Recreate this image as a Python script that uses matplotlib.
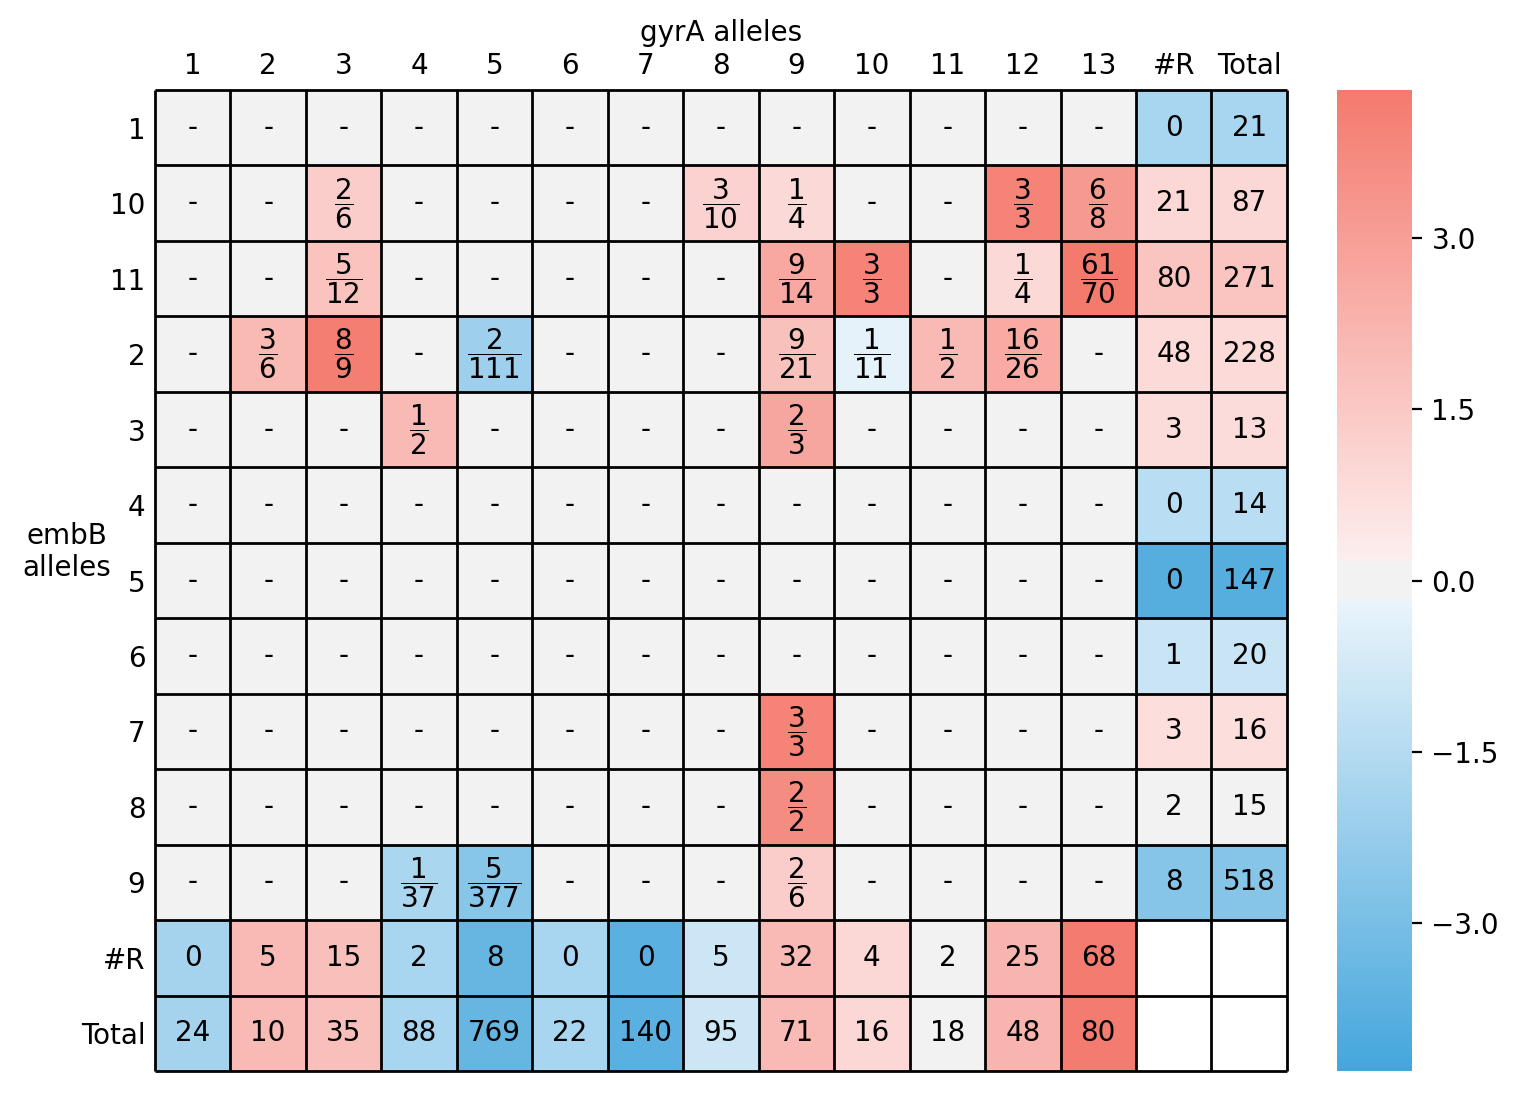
import numpy as np
import matplotlib
matplotlib.use("Agg")
import matplotlib.pyplot as plt
from matplotlib.colors import ListedColormap, to_rgb

emb_alleles = ["1", "10", "11", "2", "3", "4", "5", "6", "7", "8", "9"]
gyr_alleles = [str(i) for i in range(1, 14)]

# allele pairs that have isolates shown (embB, gyrA): resistant / total, log odds ratio
cell_emb = ["10", "10", "10", "10", "10",
            "11", "11", "11", "11", "11",
            "2", "2", "2", "2", "2", "2", "2",
            "3", "3", "7", "8", "9", "9", "9"]
cell_gyr = [3, 8, 9, 12, 13,
            3, 9, 10, 12, 13,
            2, 3, 5, 9, 10, 11, 12,
            4, 9, 9, 9, 4, 5, 9]
cell_r = [2, 3, 1, 3, 6,
          5, 9, 3, 1, 61,
          3, 8, 2, 9, 1, 1, 16,
          1, 2, 3, 2, 1, 5, 2]
cell_n = [6, 10, 4, 3, 8,
          12, 14, 3, 4, 70,
          6, 9, 111, 21, 11, 2, 26,
          2, 3, 3, 2, 37, 377, 6]
cell_lor = [1.33, 1.18, 0.92, 3.98, 3.15,
            1.71, 2.66, 3.98, 0.92, 4.38,
            2.03, 4.15, -2.06, 1.78, -0.29, 2.02, 2.58,
            2.02, 2.72, 3.98, 3.64, -1.75, -2.61, 1.33]

# per embB allele
row_r = [0, 21, 80, 48, 3, 0, 0, 1, 3, 2, 8]
row_total = [21, 87, 271, 228, 13, 14, 147, 20, 16, 15, 518]
row_lor = [-1.80, 0.96, 1.64, 0.88, 0.83, -1.40, -3.85, -1.0, 0.75, 0.10, -2.65]

# per gyrA allele
col_r = [0, 5, 15, 2, 8, 0, 0, 5, 32, 4, 2, 25, 68]
col_total = [24, 10, 35, 88, 769, 22, 140, 95, 71, 16, 18, 48, 80]
col_lor = [-1.89, 2.05, 1.81, -1.80, -3.43, -1.81, -3.74, -0.92, 2.00, 0.94, -0.06, 2.25, 4.27]

row_labels = emb_alleles + ["#R", "Total"]
col_labels = gyr_alleles + ["#R", "Total"]
nr, nc = len(row_labels), len(col_labels)
ne, ng = len(emb_alleles), len(gyr_alleles)

# build value + annotation grid
vals = np.zeros((nr, nc))
annot = np.full((nr, nc), "-", dtype=object)
for e, g, r, n, v in zip(cell_emb, cell_gyr, cell_r, cell_n, cell_lor):
    i = emb_alleles.index(e)
    j = g - 1
    vals[i, j] = v
    annot[i, j] = r"$\dfrac{%d}{%d}$" % (r, n)
for i in range(ne):
    vals[i, ng] = vals[i, ng + 1] = row_lor[i]
    annot[i, ng] = str(row_r[i])
    annot[i, ng + 1] = str(row_total[i])
for j in range(ng):
    vals[ne, j] = vals[ne + 1, j] = col_lor[j]
    annot[ne, j] = str(col_r[j])
    annot[ne + 1, j] = str(col_total[j])
vals[ne:, ng:] = np.nan
annot[ne:, ng:] = ""

# colormap: blue -> light, grey band around 0, light -> red
vmax = 4.3
band = 0.17 / (2 * vmax)
pos = np.linspace(0, 1, 1024)
blue, blue_l = np.array(to_rgb("#44a6dc")), np.array(to_rgb("#eaf4fb"))
red, red_l = np.array(to_rgb("#f47a6e")), np.array(to_rgb("#fdeeee"))
grey = np.array(to_rgb("#f2f2f2"))
colors = []
for p in pos:
    if p < 0.5 - band:
        f = (0.5 - band - p) / (0.5 - band)
        colors.append(blue_l + (blue - blue_l) * f)
    elif p > 0.5 + band:
        f = (p - 0.5 - band) / (0.5 - band)
        colors.append(red_l + (red - red_l) * f)
    else:
        colors.append(grey)
cmap = ListedColormap(colors)

fig = plt.figure(figsize=(7.59, 5.475), dpi=200)
ax = fig.add_axes([0.1021, 0.0219, 0.7457, 0.8959])
cax = fig.add_axes([0.8808, 0.0219, 0.0494, 0.8959])

mesh = ax.pcolormesh(np.ma.masked_invalid(vals), cmap=cmap, vmin=-vmax, vmax=vmax)
ax.set_xlim(0, nc)
ax.set_ylim(nr, 0)

ax.hlines(range(nr + 1), 0, nc, color="black", linewidth=1, clip_on=False)
ax.vlines(range(nc + 1), 0, nr, color="black", linewidth=1, clip_on=False)

for i in range(nr):
    for j in range(nc):
        ax.text(j + 0.5, i + 0.5, annot[i, j], ha="center", va="center", fontsize=10)

ax.set_xticks(np.arange(nc) + 0.5)
ax.set_xticklabels(col_labels, fontsize=10)
ax.set_yticks(np.arange(nr) + 0.5)
ax.set_yticklabels(row_labels, fontsize=10)
ax.xaxis.tick_top()
ax.xaxis.set_label_position("top")
ax.tick_params(length=0)
for s in ax.spines.values():
    s.set_visible(False)

ax.set_xlabel("gyrA alleles", fontsize=10)
ax.set_ylabel("embB\nalleles", fontsize=10, rotation=0, ha="center", va="center")
ax.yaxis.set_label_coords(-0.078, 0.529)

cbar = fig.colorbar(mesh, cax=cax, ticks=[-3, -1.5, 0, 1.5, 3])
cbar.outline.set_visible(False)
cbar.ax.tick_params(labelsize=10)

fig.savefig("out.png", dpi=200)
